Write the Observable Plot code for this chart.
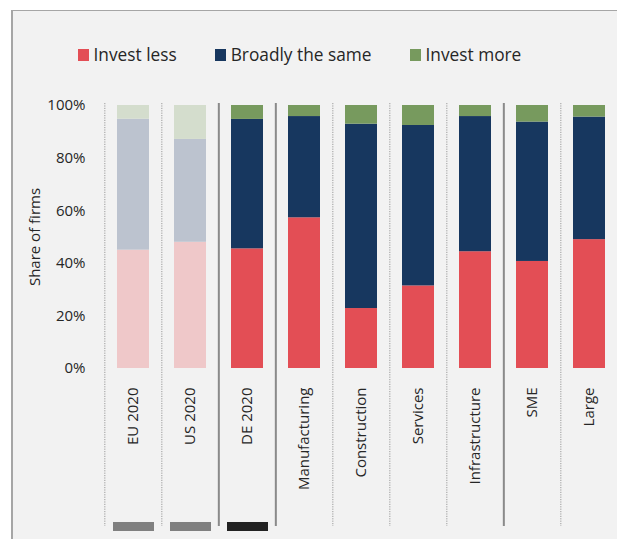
<!DOCTYPE html>
<html>
<head>
<meta charset="utf-8">
<script src="https://cdn.jsdelivr.net/npm/d3@7"></script>
<script src="https://cdn.jsdelivr.net/npm/@observablehq/plot@0.6"></script>
<style>
  html, body { margin: 0; padding: 0; }
  body { width: 617px; height: 539px; overflow: hidden; background: #ffffff; font-family: "Open Sans", sans-serif; position: relative; }
  #panel { position: absolute; left: 11px; top: 10px; width: 620px; height: 540px; background: #f2f2f2; border-top: 1px solid #a6a6a6; border-left: 2px solid #a6a6a6; }
  #legend { position: absolute; left: 78px; top: 46px; display: flex; font-size: 17.3px; line-height: 17px; color: #262626; white-space: nowrap; }
  #legend .item { display: flex; align-items: baseline; margin-right: 38.5px; }
  #legend .sw { display: inline-block; width: 10.5px; height: 12px; margin-right: 5px; }
  #chart { position: absolute; left: 0; top: 80px; }
</style>
</head>
<body>
<div id="panel"></div>
<div id="legend"></div>
<div id="chart"></div>
<script>
const categories = ["EU 2020", "US 2020", "DE 2020", "Manufacturing", "Construction", "Services", "Infrastructure", "SME", "Large"];
const investLess  = [45.0, 48.0, 45.5, 57.3, 22.8, 31.4, 44.4, 40.7, 49.0];
const broadlySame = [49.8, 39.1, 49.2, 38.5, 70.1, 61.0, 51.4, 53.0, 46.6];
const investMore  = [5.2, 12.9, 5.3, 4.2, 7.1, 7.6, 4.2, 6.3, 4.4];
const faded = [true, true, false, false, false, false, false, false, false];
// divider drawn at the left edge of each category
const dividers = ["dotted", "dotted", "solid", "solid", "dotted", "dotted", "dotted", "solid", "dotted"];
// coloured marker boxes below the first three categories
const markerColors = ["#808080", "#808080", "#222222", null, null, null, null, null, null];

const seriesNames = ["Invest less", "Broadly the same", "Invest more"];
const seriesColors = ["#e34e55", "#17375f", "#779a5e"];
const fadedColors = ["#efc8c9", "#bcc3cf", "#d4ddcd"];
const seriesValues = [investLess, broadlySame, investMore];
const yTicks = [0, 20, 40, 60, 80, 100];
const yTitle = "Share of firms";

// legend
const legend = document.getElementById("legend");
seriesNames.forEach((name, i) => {
  const item = document.createElement("div");
  item.className = "item";
  const sw = document.createElement("span");
  sw.className = "sw";
  sw.style.background = seriesColors[i];
  const t = document.createElement("span");
  t.textContent = name;
  item.appendChild(sw);
  item.appendChild(t);
  legend.appendChild(item);
});

const rows = [];
categories.forEach((c, ci) => {
  seriesNames.forEach((s, si) => {
    rows.push({category: c, series: s, value: seriesValues[si][ci], color: faded[ci] ? fadedColors[si] : seriesColors[si]});
  });
});
const divRows = categories.map((c, i) => ({category: c, type: dividers[i]}));
const markerRows = categories.map((c, i) => ({category: c, color: markerColors[i]})).filter(d => d.color);

const width = 617, height = 459, marginLeft = 103, marginRight = -2, marginTop = 25, marginBottom = 171;
const step = (width - marginLeft - marginRight) / categories.length;
const yDomain = [0, 100];

const plot = Plot.plot({
  width, height, marginLeft, marginRight, marginTop, marginBottom,
  style: {background: "transparent", overflow: "visible", color: "#262626", fontFamily: "'Open Sans', sans-serif"},
  x: {domain: categories, paddingInner: 0.442, paddingOuter: 0.221, label: null},
  y: {domain: yDomain, label: null},
  color: {type: "identity"},
  marks: [
    Plot.ruleX(divRows.filter(d => d.type === "dotted"), {x: "category", dx: -step / 2, stroke: "#9a9a9a", strokeWidth: 1, strokeDasharray: "1.2,1.2", insetTop: -2, insetBottom: -158}),
    Plot.ruleX(divRows.filter(d => d.type === "solid"), {x: "category", dx: -step / 2, stroke: "#8a8a8a", strokeWidth: 2, insetTop: -2, insetBottom: -158}),
    Plot.barY(rows, {x: "category", y: "value", fill: "color", z: "series"}),
    Plot.ruleX(markerRows, {x: "category", stroke: "color", strokeWidth: 41, insetTop: 417, insetBottom: -163}),
    Plot.axisY({ticks: yTicks, tickFormat: d => d + "%", tickSize: 0, tickPadding: 18, fontSize: 15, label: null}),
    Plot.axisX({tickRotate: -90, tickSize: 0, tickPadding: 19, fontSize: 15, label: null}),
    Plot.text([yTitle], {frameAnchor: "left", textAnchor: "middle", dx: -68, rotate: -90, fontSize: 15, fill: "#262626"})
  ]
});
document.getElementById("chart").appendChild(plot);
</script>
</body>
</html>
